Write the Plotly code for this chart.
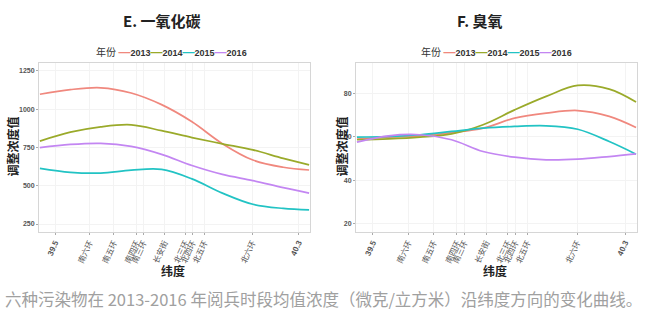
import plotly.graph_objects as go

years = ["2013", "2014", "2015", "2016"]
colors = ["#F0887E", "#9AAA2A", "#22C3C4", "#C386F2"]

lat = [39.45, 39.55, 39.65, 39.75, 39.85, 39.95, 40.05, 40.15, 40.25, 40.335]

co_vals = {
    "2013": [1098, 1128, 1140, 1106, 1030, 918, 775, 668, 621, 603],
    "2014": [792, 850, 885, 898, 860, 815, 774, 734, 679, 637],
    "2015": [614, 588, 583, 602, 607, 545, 452, 379, 352, 342],
    "2016": [749, 770, 777, 757, 705, 632, 574, 534, 488, 452],
}
o3_vals = {
    "2013": [58.9, 59.8, 60.4, 61.9, 63.9, 68.5, 70.8, 72.0, 69.3, 64.2],
    "2014": [58.6, 59.0, 59.8, 61.3, 65.5, 72.3, 78.5, 83.5, 81.8, 75.9],
    "2015": [59.8, 60.1, 60.9, 62.4, 63.9, 64.7, 65.0, 63.4, 57.8, 52.0],
    "2016": [57.5, 60.4, 60.9, 58.6, 53.2, 50.6, 49.4, 49.7, 50.9, 52.1],
}

tick_lat = [39.5, 39.613, 39.693, 39.767, 39.79, 39.86, 39.928, 39.952, 39.99, 40.148, 40.3]
tick_text = ["<b>39.5</b>", "南六环", "南五环", "南四环", "南三环", "长安街",
             "北三环", "北四环", "北五环", "北六环", "<b>40.3</b>"]

co_ticks = [250, 500, 750, 1000, 1250]
o3_ticks = [20, 40, 60, 80]

titles = ["E. 一氧化碳", "F. 臭氧"]
y_title = "调整浓度值"
x_title = "纬度"
legend_title = "年份"
caption = "六种污染物在 2013-2016 年阅兵时段均值浓度（微克/立方米）沿纬度方向的变化曲线。"

CJK = "Noto Sans CJK SC"
fig = go.Figure()

for i, y in enumerate(years):
    fig.add_trace(go.Scatter(x=lat, y=co_vals[y], mode="lines", name=y,
                             line=dict(color=colors[i], width=1.7, shape="spline", smoothing=1),
                             xaxis="x", yaxis="y", showlegend=False))
    fig.add_trace(go.Scatter(x=lat, y=o3_vals[y], mode="lines", name=y,
                             line=dict(color=colors[i], width=1.7, shape="spline", smoothing=1),
                             xaxis="x2", yaxis="y2", showlegend=False))

xcommon = dict(range=[39.447, 40.338], tickmode="array", tickvals=tick_lat, ticktext=tick_text,
               tickangle=-65, tickfont=dict(family="Liberation Sans, " + CJK, size=8, color="#555"),
               showgrid=True, gridcolor="#F3F3F3", zeroline=False,
               showline=True, mirror=True, linecolor="#D6D6D6", linewidth=1,
               ticks="outside", ticklen=2, tickcolor="#AAA")
ycommon = dict(showgrid=True, gridcolor="#F3F3F3", zeroline=False,
               showline=True, mirror=True, linecolor="#D6D6D6", linewidth=1,
               ticks="outside", ticklen=2, tickcolor="#AAA",
               tickfont=dict(family="Liberation Sans", size=7, color="#555"))

ydom = [1 - 232 / 322, 1 - 63 / 322]
fig.update_layout(
    width=650, height=322,
    margin=dict(l=0, r=0, t=0, b=0),
    paper_bgcolor="white", plot_bgcolor="white",
    xaxis=dict(domain=[39 / 650, 310 / 650], anchor="y", **xcommon),
    yaxis=dict(domain=ydom, anchor="x", range=[198, 1302], tickvals=co_ticks,
               ticktext=[f"<b>{v}</b>" for v in co_ticks], **ycommon),
    xaxis2=dict(domain=[356 / 650, 637 / 650], anchor="y2", **xcommon),
    yaxis2=dict(domain=ydom, anchor="x2", range=[16.3, 93.8], tickvals=o3_ticks,
                ticktext=[f"<b>{v}</b>" for v in o3_ticks], **ycommon),
)

def legend_text():
    parts = [f'<span style="font-size:10px">{legend_title}</span> ']
    for y, c in zip(years, colors):
        parts.append(f'<span style="color:{c};font-size:12px"><b>—</b></span><b>{y}</b>')
    return "".join(parts)

ann = []
for title, cx, lx, ytx, xtx in [(titles[0], 162, 171, 2, 173), (titles[1], 480, 496, 331, 495)]:
    ann.append(dict(text=f"<b>{title}</b>", x=cx / 650, y=1 - 20 / 322, xref="paper", yref="paper",
                    showarrow=False, font=dict(family=CJK, size=15, color="#222"),
                    xanchor="center", yanchor="middle"))
    ann.append(dict(text=legend_text(), x=lx / 650, y=1 - 52 / 322, xref="paper", yref="paper",
                    showarrow=False, font=dict(family="Liberation Sans, " + CJK, size=9, color="#333"),
                    xanchor="center", yanchor="middle"))
    ann.append(dict(text=f"<b>{y_title}</b>", x=ytx / 650, y=1 - 147 / 322, xref="paper", yref="paper",
                    showarrow=False, textangle=-90, font=dict(family=CJK, size=12, color="#222"),
                    xanchor="left", yanchor="middle", borderpad=0))
    ann.append(dict(text=f"<b>{x_title}</b>", x=xtx / 650, y=1 - 270 / 322, xref="paper", yref="paper",
                    showarrow=False, font=dict(family=CJK, size=12, color="#222"),
                    xanchor="center", yanchor="middle"))

ann.append(dict(text=caption, x=3 / 650, y=1 - 299 / 322, xref="paper", yref="paper",
                showarrow=False, font=dict(family=CJK, size=16.5, color="#A0A0A0"),
                xanchor="left", yanchor="middle"))
fig.update_layout(annotations=ann)

fig.write_html("out.html")
